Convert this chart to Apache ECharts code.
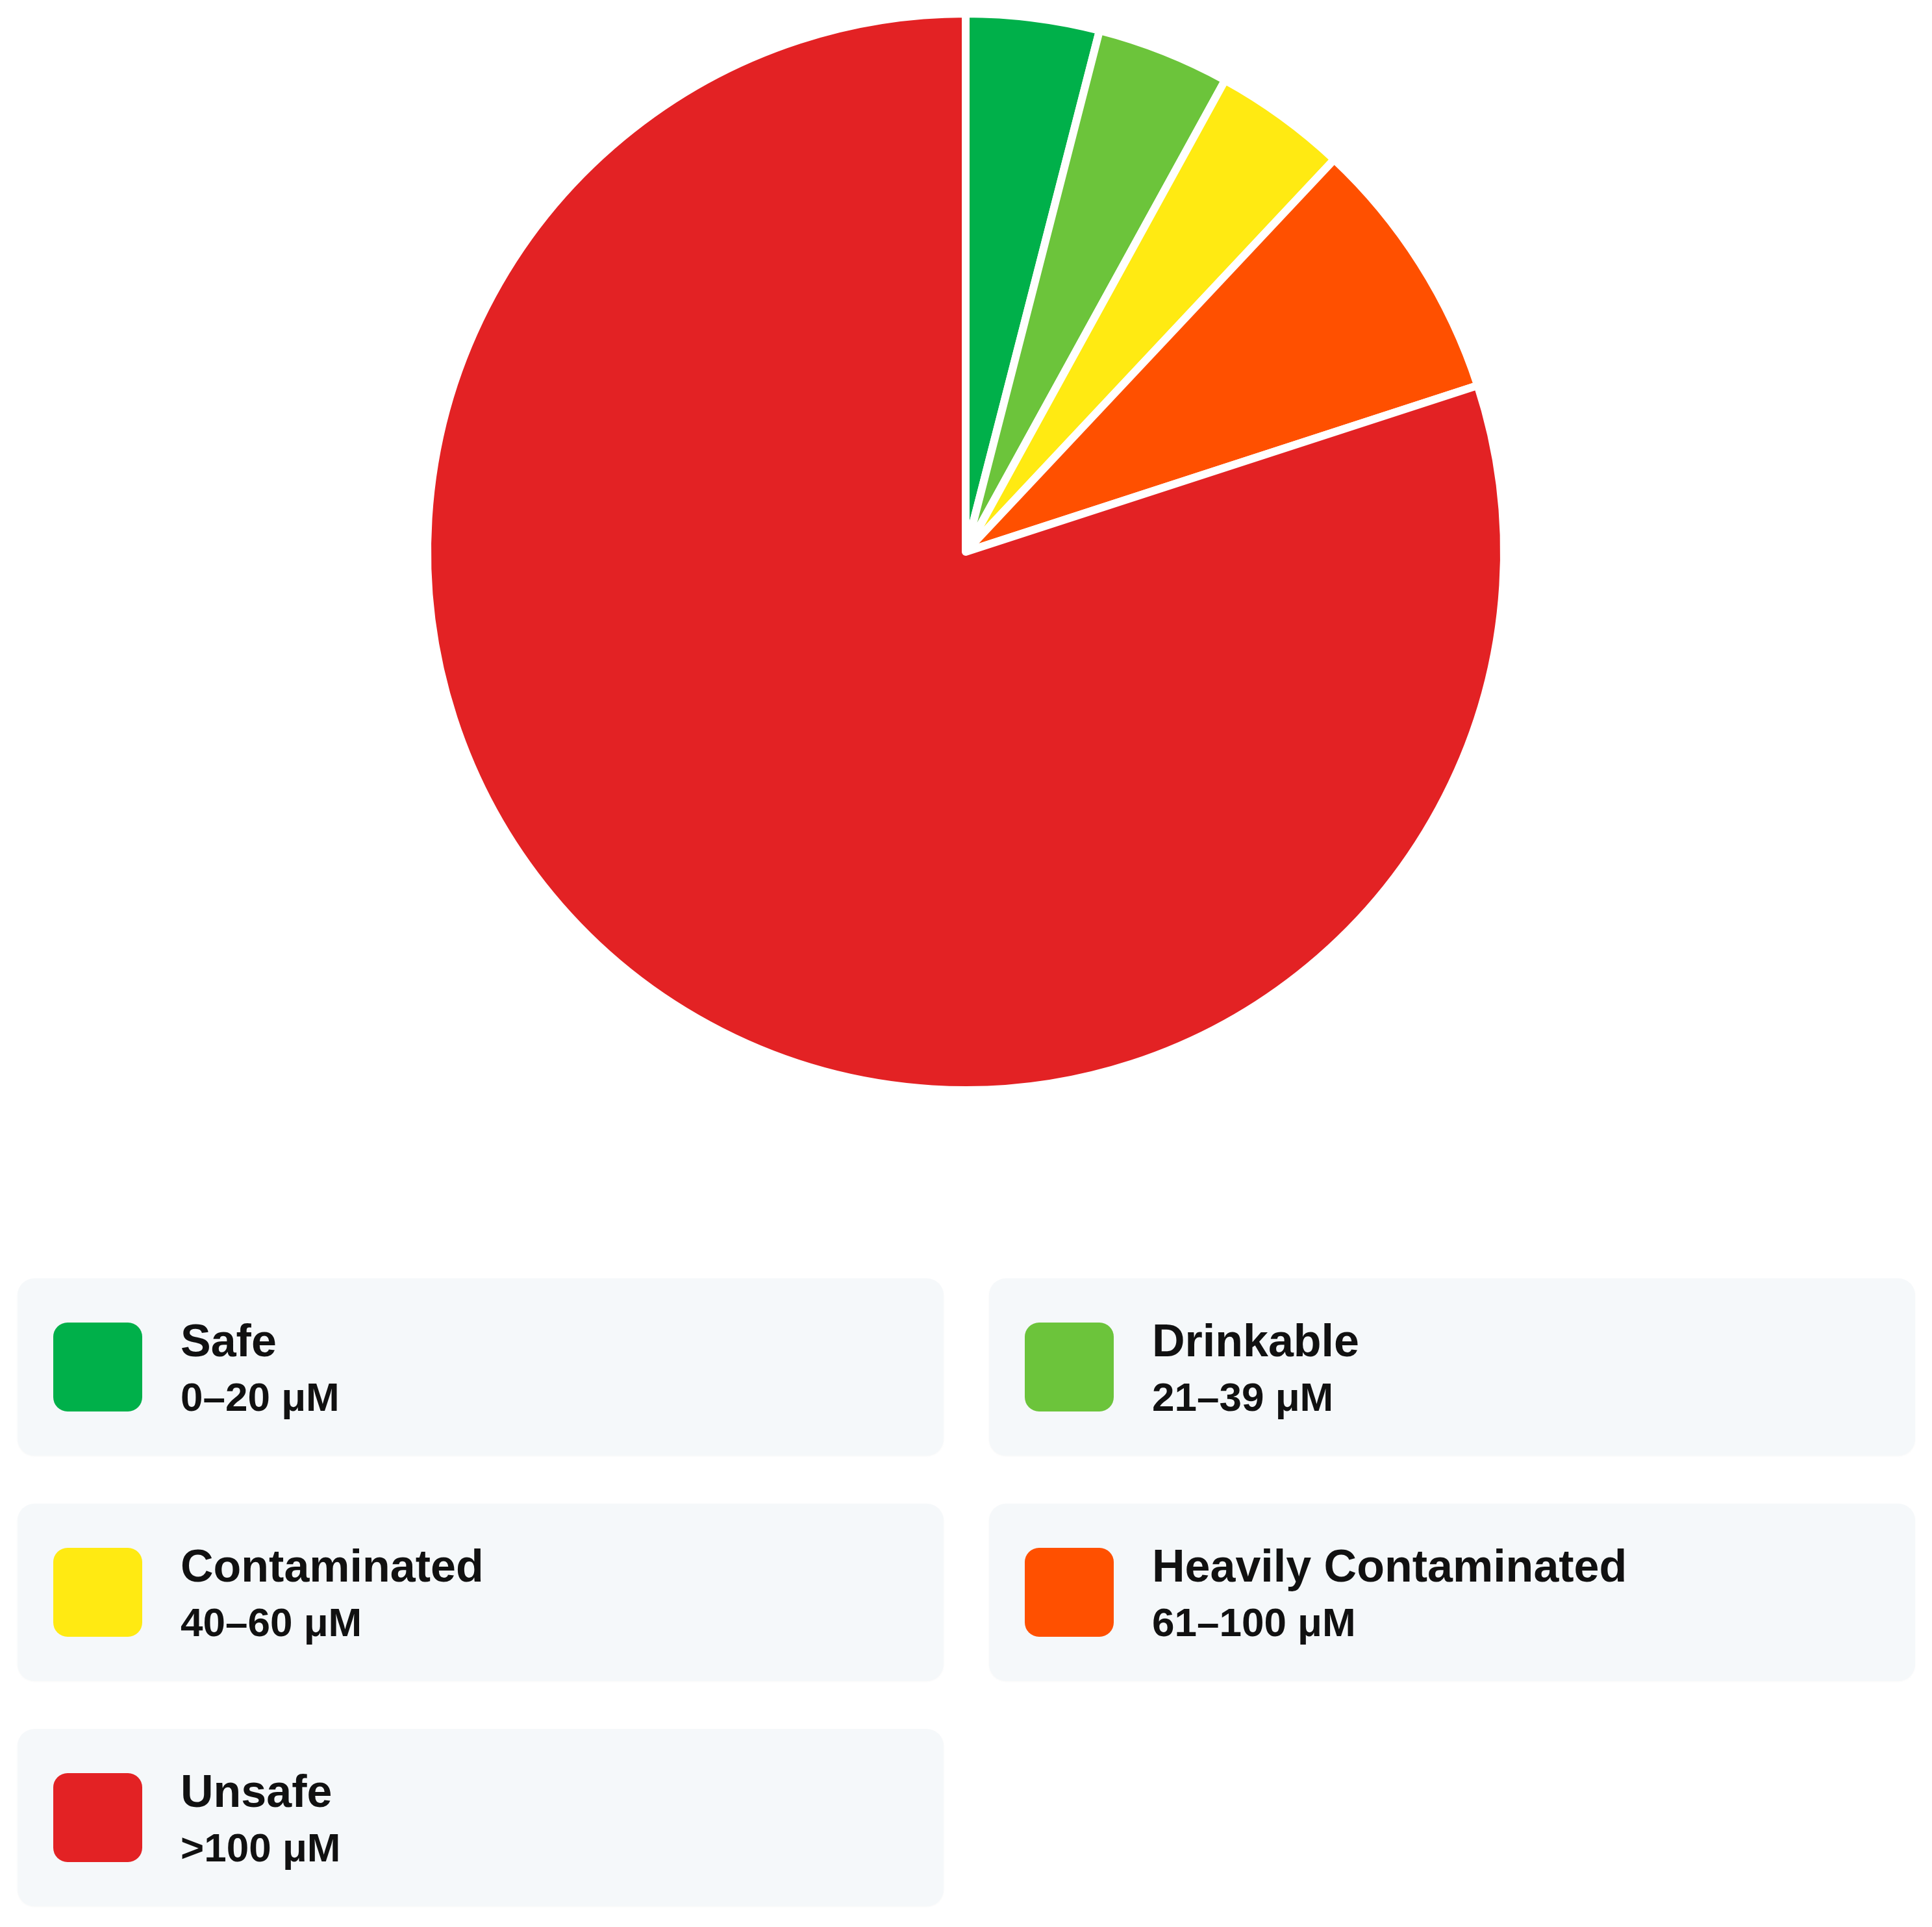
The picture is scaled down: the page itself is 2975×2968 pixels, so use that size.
<!DOCTYPE html>
<html>
<head>
<meta charset="utf-8">
<script src="https://cdn.jsdelivr.net/npm/echarts@6/dist/echarts.min.js"></script>
<style>
	html,body{margin:0;padding:0;background:#fff;}
	body{width:2975px;height:2968px;position:relative;font-family:"Liberation Sans",Arial,sans-serif;}
	#pieChart{position:absolute;left:0;top:0;width:2975px;height:1760px;}
	.legend{position:absolute;left:27px;top:1969px;width:2925px;display:grid;grid-template-columns:1426px 1426px;column-gap:70px;row-gap:74px;}
	.legend .item{height:273px;background:#f5f8fa;border-radius:26px;display:flex;align-items:center;box-sizing:border-box;padding-left:55px;box-shadow:0 1px 3px rgba(0,0,0,0.03);}
	.legend .sw{width:137px;height:137px;border-radius:22px;flex:none;}
	.legend .txt{margin-left:59px;color:#111;font-weight:bold;}
	.legend .name{font-size:70px;line-height:84px;}
	.legend .range{font-size:62px;line-height:74px;margin-top:8px;}
</style>
</head>
<body>
<div id="pieChart"></div>
<div class="legend"></div>
<script>
// 分类、范围、数值
var categories = ["Safe","Drinkable","Contaminated","Heavily Contaminated","Unsafe"];
var ranges = ["0–20 μM","21–39 μM","40–60 μM","61–100 μM",">100 μM"];
var values = [4,4,4,8,80];
var colorList = ["#00B04A","#6CC43B","#FFEA12","#FF5000","#E32224"];

//图例
var str = '';
for(var i = 0; i < categories.length; i++){
	str += '<div class="item">';
	str += '<span class="sw" style="background:'+colorList[i]+'"></span>';
	str += '<div class="txt"><div class="name">'+categories[i]+'</div>';
	str += '<div class="range">'+ranges[i]+'</div></div>';
	str += '</div>';
}
document.querySelector('.legend').innerHTML = str;

//饼图
var pieData = [];
for(var j = 0; j < categories.length; j++){
	pieData.push({name:categories[j], value:values[j], itemStyle:{color:colorList[j]}});
}
var pieChart = echarts.init(document.getElementById('pieChart'));
var option = {
	animation: false,
	series: [{
		type: 'pie',
		center: [1487, 850],
		radius: 829,
		startAngle: 90,
		clockwise: true,
		label: {show: false},
		labelLine: {show: false},
		itemStyle: {
			borderColor: '#fff',
			borderWidth: 12
		},
		data: pieData
	}]
};
pieChart.setOption(option);
</script>
</body>
</html>
